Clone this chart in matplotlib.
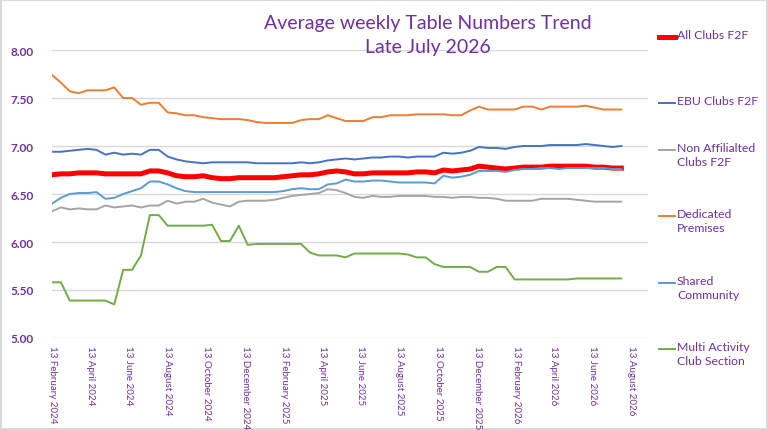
import matplotlib
matplotlib.use("Agg")
import matplotlib.pyplot as plt
import matplotlib.dates as mdates
from matplotlib.lines import Line2D
import numpy as np
import pandas as pd

# fortnightly readings, 13 Feb 2024 .. 28 Jul 2026
dates = pd.date_range("2024-02-13", periods=65, freq="14D")

all_clubs = [6.70, 6.71, 6.71, 6.72, 6.72, 6.72, 6.71, 6.71, 6.71, 6.71, 6.71, 6.74, 6.74,
             6.72, 6.69, 6.68, 6.68, 6.69, 6.67, 6.66, 6.66, 6.67, 6.67,
             6.67, 6.67, 6.67, 6.68, 6.69, 6.70, 6.70, 6.71, 6.73, 6.74, 6.73,
             6.71, 6.71, 6.72, 6.72, 6.72, 6.72, 6.72, 6.73, 6.73, 6.72, 6.75,
             6.74, 6.75, 6.76, 6.79, 6.78, 6.77, 6.76, 6.77, 6.78, 6.78, 6.78, 6.79,
             6.79, 6.79, 6.79, 6.79, 6.78, 6.78, 6.77, 6.77]
ebu_clubs = [6.94, 6.94, 6.95, 6.96, 6.97, 6.96, 6.91, 6.93, 6.91, 6.92, 6.91, 6.96, 6.96,
             6.89, 6.86, 6.84, 6.83, 6.82, 6.83, 6.83, 6.83, 6.83, 6.83,
             6.82, 6.82, 6.82, 6.82, 6.82, 6.83, 6.82, 6.83, 6.85, 6.86, 6.87,
             6.86, 6.87, 6.88, 6.88, 6.89, 6.89, 6.88, 6.89, 6.89, 6.89, 6.93,
             6.92, 6.93, 6.95, 6.99, 6.98, 6.98, 6.97, 6.99, 7.00, 7.00, 7.00, 7.01,
             7.01, 7.01, 7.01, 7.02, 7.01, 7.00, 6.99, 7.00]
non_affiliated = [6.32, 6.36, 6.34, 6.35, 6.34, 6.34, 6.38, 6.36, 6.37, 6.38, 6.36, 6.38, 6.38,
                  6.43, 6.40, 6.42, 6.42, 6.45, 6.41, 6.39, 6.37, 6.42, 6.43,
                  6.43, 6.43, 6.44, 6.46, 6.48, 6.49, 6.50, 6.51, 6.55, 6.54, 6.51,
                  6.47, 6.46, 6.48, 6.47, 6.47, 6.48, 6.48, 6.48, 6.48, 6.47, 6.47,
                  6.46, 6.47, 6.47, 6.46, 6.46, 6.45, 6.43, 6.43, 6.43, 6.43, 6.45, 6.45,
                  6.45, 6.45, 6.44, 6.43, 6.42, 6.42, 6.42, 6.42]
dedicated = [7.74, 7.66, 7.57, 7.55, 7.58, 7.58, 7.58, 7.61, 7.50, 7.50, 7.43, 7.45, 7.45,
             7.35, 7.34, 7.32, 7.32, 7.30, 7.29, 7.28, 7.28, 7.28, 7.27,
             7.25, 7.24, 7.24, 7.24, 7.24, 7.27, 7.28, 7.28, 7.32, 7.29, 7.26,
             7.26, 7.26, 7.30, 7.30, 7.32, 7.32, 7.32, 7.33, 7.33, 7.33, 7.33,
             7.32, 7.32, 7.37, 7.41, 7.38, 7.38, 7.38, 7.38, 7.41, 7.41, 7.38, 7.41,
             7.41, 7.41, 7.41, 7.42, 7.40, 7.38, 7.38, 7.38]
shared = [6.40, 6.46, 6.50, 6.51, 6.51, 6.52, 6.45, 6.46, 6.50, 6.53, 6.56, 6.63, 6.63,
          6.60, 6.56, 6.53, 6.52, 6.52, 6.52, 6.52, 6.52, 6.52, 6.52,
          6.52, 6.52, 6.52, 6.53, 6.55, 6.56, 6.55, 6.55, 6.60, 6.61, 6.65,
          6.63, 6.63, 6.64, 6.64, 6.63, 6.62, 6.62, 6.62, 6.62, 6.61, 6.69,
          6.67, 6.68, 6.70, 6.74, 6.74, 6.74, 6.73, 6.75, 6.76, 6.76, 6.77, 6.77,
          6.76, 6.77, 6.77, 6.77, 6.77, 6.77, 6.76, 6.76]
multi_activity = [5.58, 5.58, 5.39, 5.39, 5.39, 5.39, 5.39, 5.35, 5.71, 5.71, 5.86, 6.28, 6.28,
                  6.17, 6.17, 6.17, 6.17, 6.17, 6.18, 6.01, 6.01, 6.17, 5.97,
                  5.98, 5.98, 5.98, 5.98, 5.98, 5.98, 5.89, 5.86, 5.86, 5.86, 5.84,
                  5.88, 5.88, 5.88, 5.88, 5.88, 5.88, 5.87, 5.84, 5.84, 5.77, 5.74,
                  5.74, 5.74, 5.74, 5.69, 5.69, 5.74, 5.74, 5.61, 5.61, 5.61, 5.61, 5.61,
                  5.61, 5.61, 5.62, 5.62, 5.62, 5.62, 5.62, 5.62]

labels = ["All Clubs F2F", "EBU Clubs F2F", "Non Affilialted\nClubs F2F",
          "Dedicated\nPremises", "Shared\nCommunity", "Multi Activity\nClub Section"]
series = [all_clubs, ebu_clubs, non_affiliated, dedicated, shared, multi_activity]
colors = ["#FF0000", "#4472C4", "#A5A5A5", "#ED7D31", "#5B9BD5", "#70AD47"]
widths = [3.6, 1.4, 1.4, 1.4, 1.4, 1.4]

tick_dates = ["2024-02-13", "2024-04-13", "2024-06-13", "2024-08-13", "2024-10-13",
              "2024-12-13", "2025-02-13", "2025-04-13", "2025-06-13", "2025-08-13",
              "2025-10-13", "2025-12-13", "2026-02-13", "2026-04-13", "2026-06-13",
              "2026-08-13"]

purple = "#7030A0"
plt.rcParams['font.family'] = ['Lato', 'DejaVu Sans']

W, H = 768, 431
fig = plt.figure(figsize=(W / 100, H / 100), dpi=100)
fig.patch.set_edgecolor("#D9D9D9")
fig.patch.set_linewidth(1.5)

ax = fig.add_axes([52 / W, 1 - 339 / H, (648 - 52) / W, (339 - 51) / H])

for vals, c, lw in zip(series, colors, widths):
    ax.plot(dates, vals, color=c, lw=lw, solid_joinstyle="round")

ax.set_ylim(5, 8)
ax.set_yticks(np.arange(5, 8.01, 0.5))
ax.yaxis.set_major_formatter(matplotlib.ticker.FormatStrFormatter("%.2f"))
ax.set_xlim(pd.Timestamp("2024-02-13"), pd.Timestamp("2026-09-08"))
ax.set_xticks(pd.to_datetime(tick_dates))
ax.xaxis.set_major_formatter(mdates.DateFormatter("%d %B %Y"))

for s in ax.spines.values():
    s.set_visible(False)
ax.grid(axis="y", color="#D9D9D9", lw=1)
ax.set_axisbelow(True)
ax.tick_params(axis="both", length=0, colors=purple)
ax.tick_params(axis="y", pad=13, labelsize=8.5)
ax.tick_params(axis="x", pad=5, labelsize=7)
for t in ax.get_yticklabels():
    t.set_fontweight("bold")
for t in ax.get_xticklabels():
    t.set_rotation(-90)
    t.set_ha("center")
    t.set_va("top")

fig.text(428 / W, 1 - 24 / H, "Average weekly Table Numbers Trend", ha="center", va="center",
         color=purple, fontsize=14)
fig.text(428 / W, 1 - 47 / H, "Late July 2026", ha="center", va="center",
         color=purple, fontsize=14)

# legend down the right side
leg_y = [38, 104, 151, 217, 284, 350]
for lab, c, lw, y in zip(labels, colors, widths, leg_y):
    fig.add_artist(Line2D([659 / W, 675 / W], [1 - y / H, 1 - y / H], color=c, lw=lw,
                          transform=fig.transFigure))
    fig.text(677 / W, 1 - (y - 8) / H, lab, ha="left", va="top", color=purple,
             fontsize=8.8, linespacing=1.3)

fig.savefig("out.png", dpi=100)
